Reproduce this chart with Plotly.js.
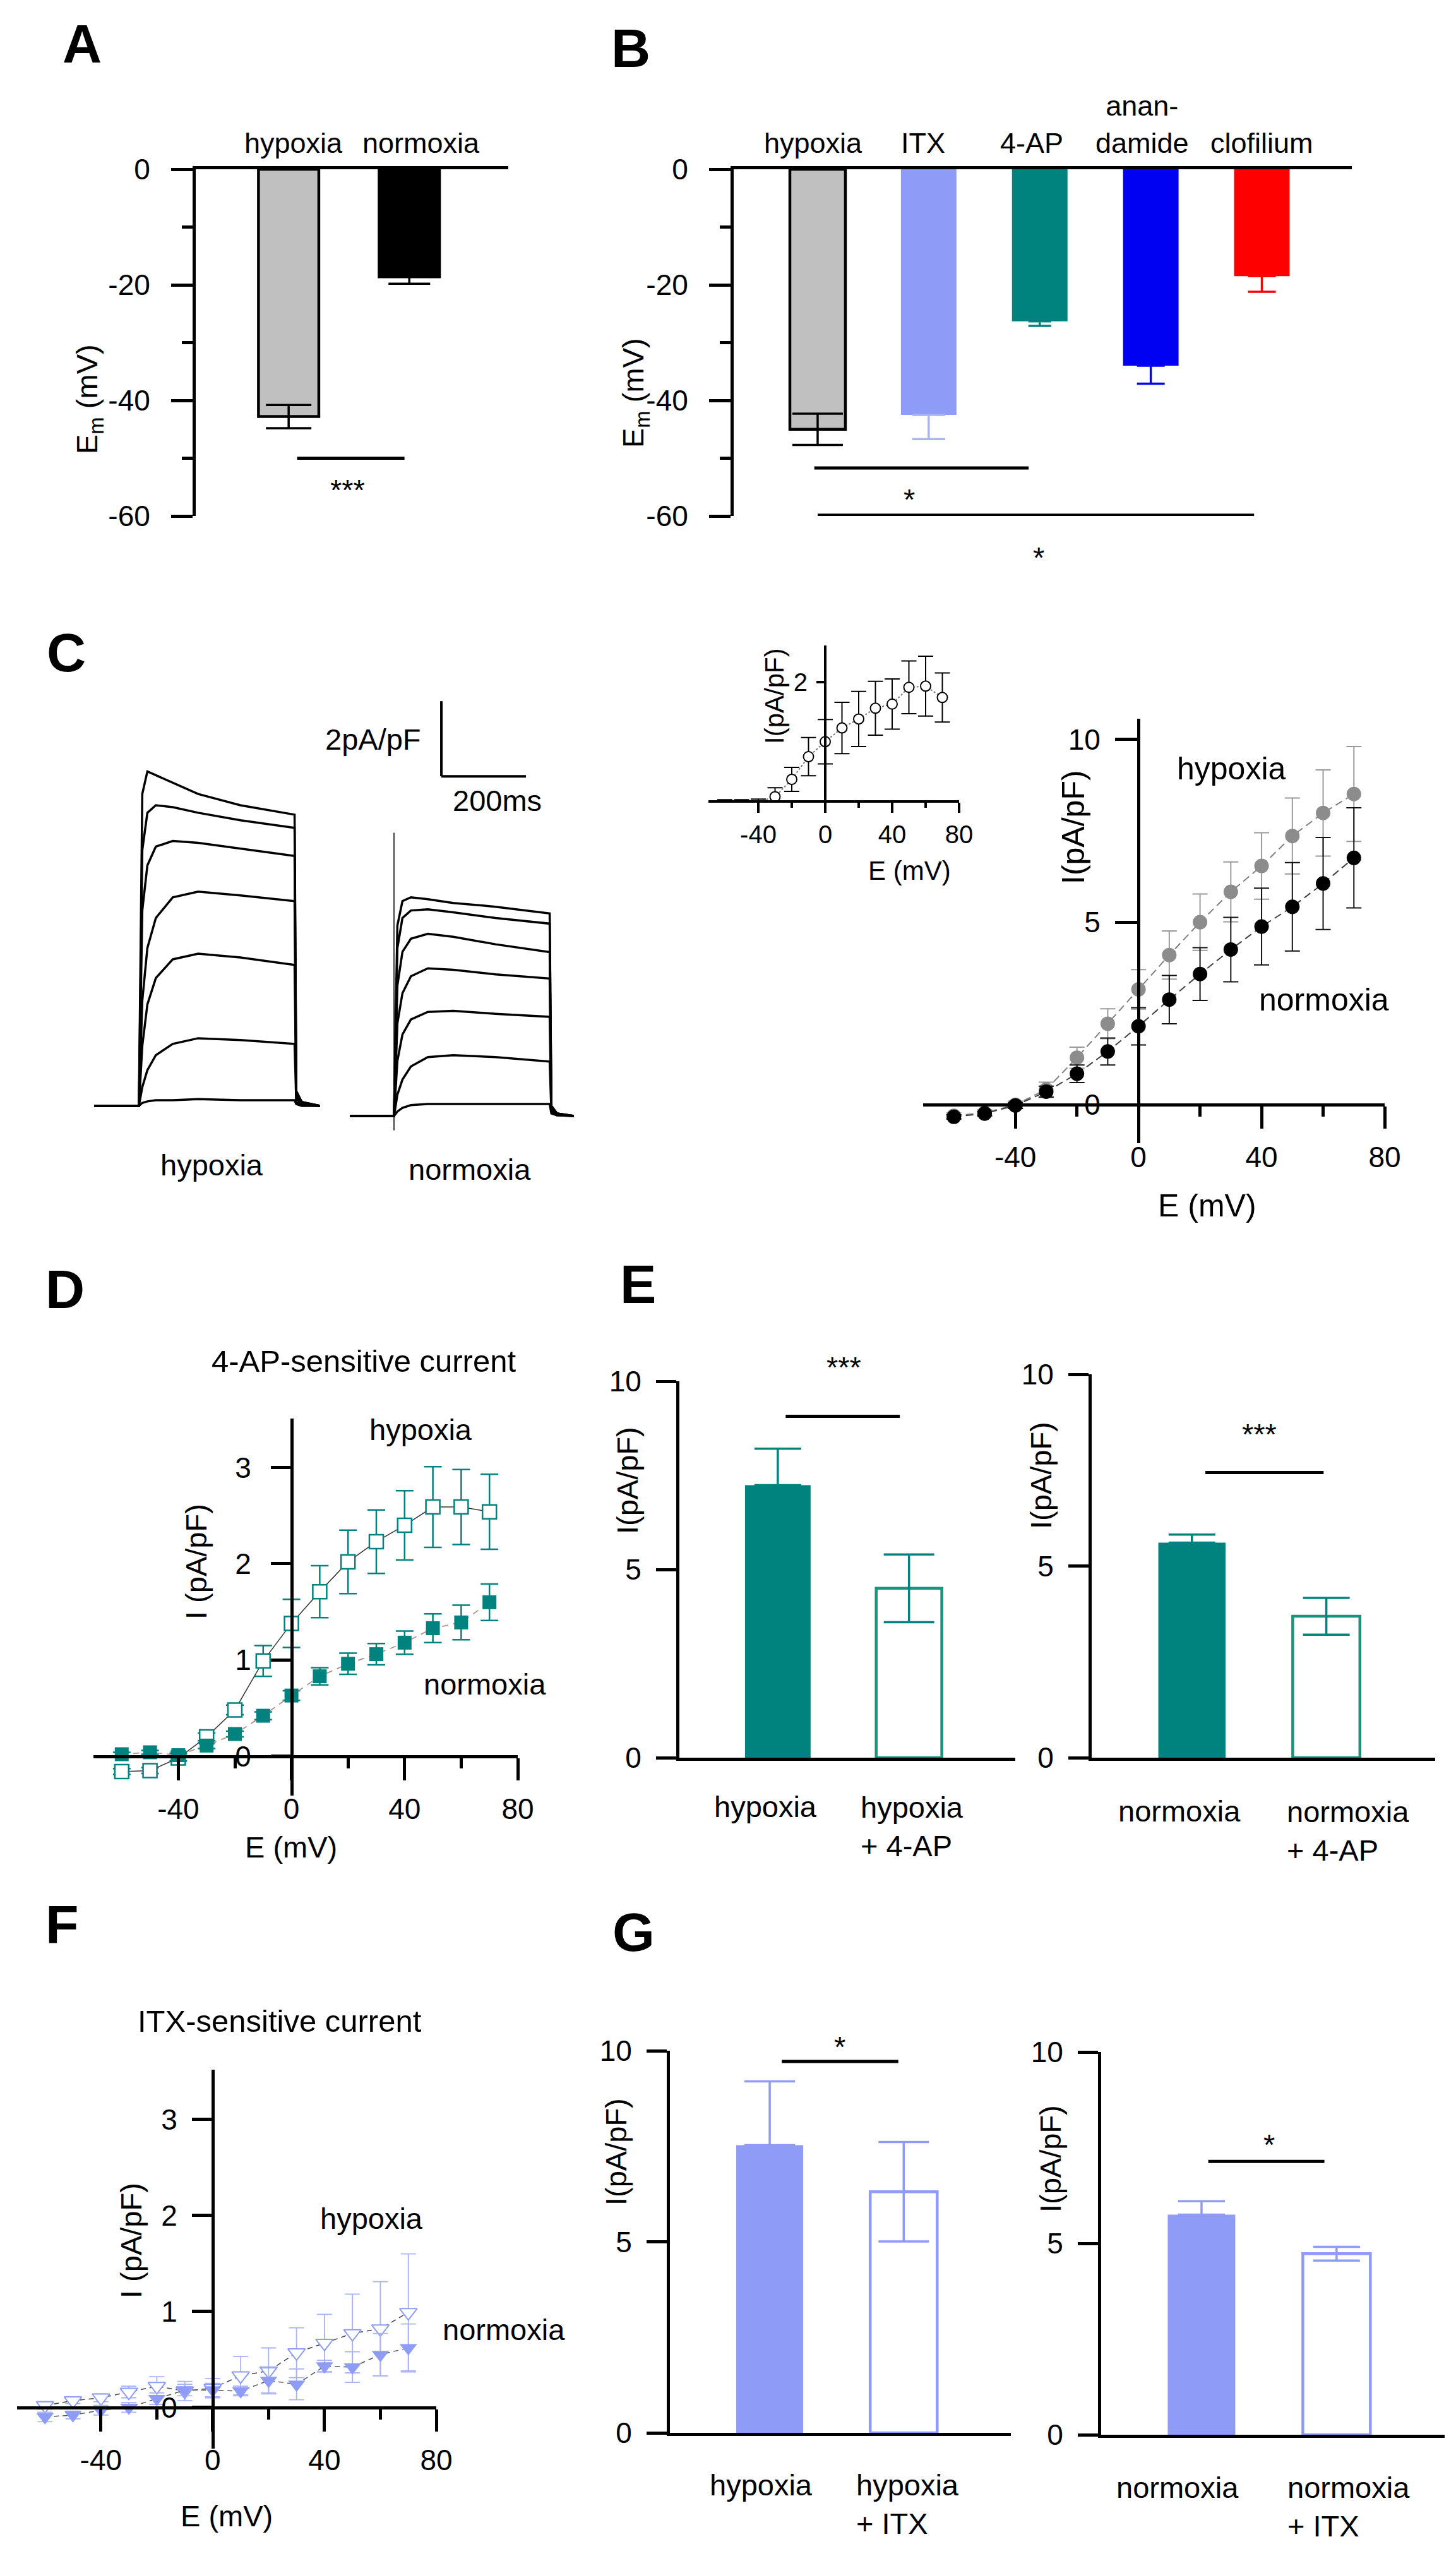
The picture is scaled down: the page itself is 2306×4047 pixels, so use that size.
<!DOCTYPE html>
<html><head><meta charset="utf-8">
<script src="https://cdn.plot.ly/plotly-3.0.1.min.js"></script>
<style>html,body{margin:0;padding:0;background:#fff}#fig{width:2306px;height:4047px}</style>
</head><body><div id="fig"></div>
<script>
// ---------------- DATA ----------------
// Panel A: resting membrane potential (mV)
const aCats = ['hypoxia', 'normoxia'];
const aEm = [-42.8, -18.6];
const aErr = [2.0, 1.2];
// Panel B
const bCats = ['hypoxia', 'ITX', '4-AP', 'anan-<br>damide', 'clofilium'];
const bEm = [-45.0, -42.5, -26.3, -34.0, -18.5];
const bErr = [2.7, 4.2, 0.8, 3.1, 2.7];
// Panel C: example current traces (time in ms, current in pA/pF)
const tHyp = [-105, -1, 0, 8, 20, 40, 80, 140, 240, 368, 372, 385, 428];
const hypSweeps = [
  [0, 0, 0, 8.3, 8.9, 8.8, 8.6, 8.3, 8.0, 7.75, 0.4, 0.1, 0],
  [0, 0, 0, 6.8, 7.8, 8.0, 7.95, 7.8, 7.6, 7.4, 0.35, 0.1, 0],
  [0, 0, 0, 5.2, 6.4, 6.9, 7.05, 7.0, 6.85, 6.65, 0.3, 0.1, 0],
  [0, 0, 0, 2.8, 4.2, 5.0, 5.55, 5.7, 5.6, 5.45, 0.25, 0.05, 0],
  [0, 0, 0, 1.6, 2.7, 3.4, 3.9, 4.05, 3.95, 3.75, 0.2, 0.05, 0],
  [0, 0, 0, 0.5, 0.95, 1.35, 1.65, 1.8, 1.75, 1.65, 0.1, 0.02, 0],
  [0, 0, 0, 0.08, 0.12, 0.15, 0.15, 0.18, 0.15, 0.15, 0.05, 0, 0]
];
const tNor = [499, 602, 603, 611, 623, 643, 683, 743, 843, 971, 975, 988, 1028];
const norSweeps = [
  [-0.27, -0.27, -0.27, 4.8, 5.45, 5.55, 5.5, 5.4, 5.3, 5.12, 0, -0.2, -0.27],
  [-0.27, -0.27, -0.27, 4.2, 5.0, 5.2, 5.23, 5.15, 5.0, 4.85, 0, -0.2, -0.27],
  [-0.27, -0.27, -0.27, 3.2, 4.1, 4.45, 4.58, 4.5, 4.3, 4.09, -0.05, -0.2, -0.27],
  [-0.27, -0.27, -0.27, 2.2, 3.0, 3.45, 3.66, 3.62, 3.5, 3.39, -0.1, -0.22, -0.27],
  [-0.27, -0.27, -0.27, 1.2, 1.9, 2.3, 2.5, 2.53, 2.45, 2.37, -0.1, -0.22, -0.27],
  [-0.27, -0.27, -0.27, 0.3, 0.7, 1.05, 1.3, 1.35, 1.3, 1.18, -0.15, -0.25, -0.27],
  [-0.27, -0.27, -0.27, -0.15, -0.05, 0.02, 0.05, 0.05, 0.05, 0.05, -0.2, -0.25, -0.27]
];
const tCap = [603, 603];
const iCap = [7.27, -0.65];
// I-V curves
const ivV = [-60, -50, -40, -30, -20, -10, 0, 10, 20, 30, 40, 50, 60, 70];
const cInsetI   = [-0.02, -0.02, -0.01, 0.08, 0.37, 0.75, 1.0, 1.23, 1.38, 1.56, 1.63, 1.91, 1.93, 1.74];
const cInsetErr = [0.05, 0.05, 0.05, 0.15, 0.2, 0.32, 0.37, 0.43, 0.46, 0.45, 0.42, 0.44, 0.5, 0.41];
const cHypI   = [-0.3, -0.22, 0.0, 0.42, 1.29, 2.22, 3.16, 4.10, 5.0, 5.83, 6.54, 7.36, 7.99, 8.51];
const cHypErr = [0.08, 0.08, 0.1, 0.2, 0.29, 0.41, 0.54, 0.66, 0.77, 0.82, 0.91, 1.04, 1.18, 1.3];
const cNorI   = [-0.33, -0.24, -0.02, 0.36, 0.85, 1.46, 2.15, 2.88, 3.58, 4.25, 4.88, 5.42, 6.06, 6.76];
const cNorErr = [0.06, 0.06, 0.08, 0.15, 0.24, 0.37, 0.51, 0.66, 0.72, 0.88, 1.05, 1.21, 1.26, 1.37];
// Panel D: 4-AP-sensitive current
const dHypI   = [-0.16, -0.15, -0.02, 0.2, 0.48, 0.99, 1.38, 1.71, 2.02, 2.23, 2.4, 2.59, 2.59, 2.54];
const dHypErr = [0.03, 0.03, 0.03, 0.04, 0.05, 0.16, 0.25, 0.27, 0.33, 0.33, 0.36, 0.42, 0.39, 0.39];
const dNorI   = [0.02, 0.04, 0.01, 0.11, 0.23, 0.42, 0.63, 0.83, 0.96, 1.06, 1.18, 1.33, 1.39, 1.6];
const dNorErr = [0.02, 0.02, 0.02, 0.03, 0.03, 0.04, 0.05, 0.09, 0.11, 0.11, 0.12, 0.15, 0.18, 0.19];
// Panel E
const eHypCats = ['hypoxia', 'hypoxia<br>+ 4-AP'];
const eHypI = [7.24, 4.5];
const eHypErr = [0.97, 0.9];
const eNorCats = ['normoxia', 'normoxia<br>+ 4-AP'];
const eNorI = [5.61, 3.69];
const eNorErr = [0.21, 0.48];
// Panel F: ITX-sensitive current
const fHypI   = [0.02, 0.07, 0.1, 0.16, 0.22, 0.17, 0.2, 0.33, 0.38, 0.57, 0.67, 0.77, 0.82, 0.99];
const fHypErr = [0.04, 0.03, 0.04, 0.06, 0.1, 0.1, 0.1, 0.2, 0.24, 0.26, 0.3, 0.41, 0.49, 0.61];
const fNorI   = [-0.1, -0.08, -0.03, 0.0, 0.09, 0.18, 0.18, 0.17, 0.28, 0.24, 0.43, 0.42, 0.55, 0.62];
const fNorErr = [0.05, 0.04, 0.05, 0.05, 0.06, 0.06, 0.07, 0.05, 0.13, 0.16, 0.06, 0.16, 0.22, 0.25];
// Panel G
const gHypCats = ['hypoxia', 'hypoxia<br>+ ITX'];
const gHypI = [7.53, 6.31];
const gHypErr = [1.67, 1.3];
const gNorCats = ['normoxia', 'normoxia<br>+ ITX'];
const gNorI = [5.75, 4.73];
const gNorErr = [0.35, 0.18];

// ---------------- STYLE / LAYOUT HELPERS ----------------
const W = 2306, H = 4047;
const FONT = '"Liberation Sans", Arial, Helvetica, sans-serif';
const TICK = 46, LAB = 47, CAT = 45;
const GRAYBAR = '#c0c0c0', TEAL = '#00837e', TEAL_OPEN = '#16957f';
const PERI = '#8f9cf7', PERI_ERR = '#a9b2f6', BLUE = '#0000f2', RED = '#ff0000';
const xd = (a, b) => [a / W, b / W];
const yd = (top, bot) => [1 - bot / H, 1 - top / H];
const px = p => p / W, py = p => 1 - p / H;
const k = n => (n === 1 ? '' : String(n));

const traces = [], ann = [], shapes = [];
const layout = {
  width: W, height: H, margin: {l: 0, r: 0, t: 0, b: 0},
  paper_bgcolor: '#fff', plot_bgcolor: 'rgba(0,0,0,0)', showlegend: false,
  barmode: 'overlay', font: {family: FONT, size: LAB, color: '#000'},
  annotations: ann, shapes: shapes
};
function text(t, x, y, opt) {
  ann.push(Object.assign({text: t, xref: 'paper', yref: 'paper', x: px(x), y: py(y),
    xanchor: 'center', yanchor: 'middle', showarrow: false,
    font: {family: FONT, size: LAB, color: '#000'}}, opt || {}));
}
function dataText(n, t, x, y, opt) {
  ann.push(Object.assign({text: t, xref: 'x' + k(n), yref: 'y' + k(n), x: x, y: y,
    xanchor: 'center', yanchor: 'middle', showarrow: false,
    font: {family: FONT, size: LAB, color: '#000'}}, opt || {}));
}
function sig(n, x0, x1, y) {
  shapes.push({type: 'line', xref: 'x' + k(n), yref: 'y' + k(n), x0: x0, x1: x1, y0: y, y1: y,
    line: {color: '#000', width: 5}});
}
function label(t, x, y) { text('<b>' + t + '</b>', x, y, {font: {family: FONT, size: 86, color: '#000'}}); }
function ytitle(t, x, y, size) { text(t, x, y, {textangle: -90, font: {family: FONT, size: size || LAB, color: '#000'}}); }

function barAxes(n, xDom, xRange, yDom, yRange, yTicks, minor, top) {
  layout['xaxis' + k(n)] = {domain: xd(xDom[0], xDom[1]), range: xRange, anchor: 'y' + k(n),
    side: top ? 'top' : 'bottom', showline: true, linewidth: 5, linecolor: '#000',
    ticks: '', showticklabels: false, showgrid: false, zeroline: false, fixedrange: true};
  const ya = {domain: yd(yDom[0], yDom[1]), range: yRange, anchor: 'x' + k(n),
    showline: true, linewidth: 5, linecolor: '#000', ticks: 'outside', ticklen: top ? 34 : 32, tickwidth: 5,
    tickcolor: '#000', tickmode: 'array', tickvals: yTicks, ticktext: yTicks.map(v => String(v)),
    tickfont: {family: FONT, size: TICK, color: '#000'}, ticklabelstandoff: top ? 24 : 14,
    showgrid: false, zeroline: false, fixedrange: true};
  if (minor) ya.minor = {tickmode: 'array', tickvals: minor, ticks: 'outside', ticklen: 17,
    tickwidth: 5, tickcolor: '#000', showgrid: false};
  layout['yaxis' + k(n)] = ya;
}
function ivAxes(n, o) {
  layout['xaxis' + k(n)] = {domain: xd(o.x0, o.x1), range: o.xr, anchor: 'free', position: py(o.xpos),
    showline: true, linewidth: o.lw, linecolor: '#000', ticks: 'outside', ticklen: o.tl, tickwidth: o.lw,
    tickcolor: '#000', tickmode: 'array', tickvals: [-40, 0, 40, 80], ticktext: ['-40', '0', '40', '80'],
    tickfont: {family: FONT, size: o.fs, color: '#000'}, ticklabelstandoff: o.xso,
    minor: {tickmode: 'array', tickvals: [-20, 20, 60], ticks: 'outside', ticklen: o.mtl, tickwidth: o.lw,
      tickcolor: '#000', showgrid: false},
    showgrid: false, zeroline: false, fixedrange: true};
  layout['yaxis' + k(n)] = {domain: yd(o.y0, o.y1), range: o.yr, anchor: 'free', position: px(o.ypos),
    showline: true, linewidth: o.lw, linecolor: '#000', ticks: 'outside', ticklen: o.ytl, tickwidth: o.lw,
    tickcolor: '#000', tickmode: 'array', tickvals: o.yt, ticktext: o.yt.map(v => String(v)),
    tickfont: {family: FONT, size: o.fs, color: '#000'}, ticklabelstandoff: o.yso,
    showgrid: false, zeroline: false, fixedrange: true};
}
function bar(n, x, y, fill, lineColor, lineW, errUp, errDown, errColor, capW) {
  traces.push({type: 'bar', x: [x], y: [y], width: [0.5], xaxis: 'x' + k(n), yaxis: 'y' + k(n),
    marker: {color: fill, line: {color: lineColor, width: lineW}},
    error_y: {type: 'data', symmetric: false, array: [errUp], arrayminus: [errDown], visible: true,
      color: errColor, thickness: 3.5, width: capW}, hoverinfo: 'skip'});
}
function iv(n, y, err, marker, line, errColor, errW, capW) {
  traces.push({type: 'scatter', mode: 'lines+markers', x: ivV, y: y, xaxis: 'x' + k(n), yaxis: 'y' + k(n),
    cliponaxis: false, marker: marker, line: line,
    error_y: {type: 'data', array: err, visible: true, color: errColor, thickness: errW, width: capW},
    hoverinfo: 'skip'});
}
const catFont = {family: FONT, size: CAT, color: '#000'};

// ---------------- PANEL A ----------------
barAxes(1, [310, 805], [0.23, 2.82], [268, 817], [-60, 0], [0, -20, -40, -60], [-10, -30, -50], true);
bar(1, 1, aEm[0], GRAYBAR, '#000', 4.5, aErr[0], aErr[0], '#000', 36);
bar(1, 2, aEm[1], '#000', '#000', 4.5, 0, aErr[1], '#000', 33);
const aLabelX = [1.04, 2.1];
aCats.forEach((c, i) => dataText(1, c, aLabelX[i], 0, {yanchor: 'bottom', yshift: 14, font: catFont}));
sig(1, 1.07, 1.96, -50);
text('***', 550, 776);
label('A', 130, 69);
ytitle('E<sub>m</sub> (mV)', 141, 632);

// ---------------- PANEL B ----------------
barAxes(2, [1162, 2141], [0.244, 5.81], [268, 817], [-60, 0], [0, -20, -40, -60], [-10, -30, -50], true);
const bFill = [GRAYBAR, PERI, TEAL, BLUE, RED];
const bLine = ['#000', PERI, TEAL, BLUE, RED];
const bLW = [4.5, 0, 0, 0, 0];
const bErrC = ['#000', PERI_ERR, TEAL, BLUE, RED];
const bCap = [40, 26, 18, 22, 22];
bEm.forEach((v, i) => bar(2, i + 1, v, bFill[i], bLine[i], bLW[i], i === 0 ? bErr[i] : 0, bErr[i], bErrC[i], bCap[i]));
const bLabelX = [0.96, 1.95, 2.93, 3.92, 5.0];
bCats.forEach((c, i) => dataText(2, c, bLabelX[i], 0, {yanchor: 'bottom', yshift: 14, font: catFont}));
sig(2, 0.97, 2.90, -51.7);
sig(2, 1.0, 4.93, -59.85);
text('*', 1440, 790);
text('*', 1645, 883);
label('B', 999, 76);
ytitle('E<sub>m</sub> (mV)', 1006, 622);

// ---------------- PANEL C: traces ----------------
layout.xaxis3 = {domain: xd(140, 930), range: [-119.4, 1059.7], visible: false, fixedrange: true};
layout.yaxis3 = {domain: yd(1080, 1830), range: [-1.3277, 11.277], visible: false, fixedrange: true};
hypSweeps.forEach(s => traces.push({type: 'scatter', mode: 'lines', x: tHyp, y: s, xaxis: 'x3', yaxis: 'y3',
  line: {color: '#000', width: 3.5}, hoverinfo: 'skip'}));
norSweeps.forEach(s => traces.push({type: 'scatter', mode: 'lines', x: tNor, y: s, xaxis: 'x3', yaxis: 'y3',
  line: {color: '#000', width: 3.5}, hoverinfo: 'skip'}));
traces.push({type: 'scatter', mode: 'lines', x: tCap, y: iCap, xaxis: 'x3', yaxis: 'y3',
  line: {color: '#000', width: 1.5}, hoverinfo: 'skip'});
shapes.push({type: 'line', xref: 'x3', yref: 'y3', x0: 715, x1: 715, y0: 8.77, y1: 10.77, line: {color: '#000', width: 4}});
shapes.push({type: 'line', xref: 'x3', yref: 'y3', x0: 715, x1: 915, y0: 8.77, y1: 8.77, line: {color: '#000', width: 4}});
text('2pA/pF', 591, 1171);
text('200ms', 787, 1267);
text('hypoxia', 335, 1844);
text('normoxia', 744, 1851);
label('C', 105, 1033);

// ---------------- PANEL C: inset I-V ----------------
ivAxes(4, {x0: 1121.5, x1: 1519, xr: [-70, 80], xpos: 1269, y0: 1022, y1: 1269, yr: [0, 2.61], ypos: 1307,
  yt: [2], lw: 4, tl: 16, mtl: 8, ytl: 12, fs: 40, xso: 0, yso: 6});
iv(4, cInsetI, cInsetErr, {symbol: 'circle', size: 16, color: '#fff', line: {color: '#000', width: 2}},
  {color: '#777', width: 2, dash: 'dot'}, '#000', 2, 12);
ytitle('I(pA/pF)', 1227, 1102, 42);
text('E (mV)', 1440, 1378, {font: {family: FONT, size: 42, color: '#000'}});

// ---------------- PANEL C: main I-V ----------------
ivAxes(5, {x0: 1462, x1: 2193, xr: [-70, 80], xpos: 1749, y0: 1138, y1: 1810, yr: [-1.05, 10.57], ypos: 1803,
  yt: [0, 5, 10], lw: 5, tl: 35, mtl: 16, ytl: 35, fs: TICK, xso: 6, yso: 14});
iv(5, cHypI, cHypErr, {symbol: 'circle', size: 23, color: '#8c8c8c', line: {width: 0}},
  {color: '#808080', width: 2, dash: '12px,7px'}, '#9a9a9a', 2, 12);
iv(5, cNorI, cNorErr, {symbol: 'circle', size: 23, color: '#000', line: {width: 0}},
  {color: '#404040', width: 2, dash: '12px,7px'}, '#111', 2, 12);
text('hypoxia', 1950, 1217, {font: {family: FONT, size: 50, color: '#000'}});
text('normoxia', 2097, 1583, {font: {family: FONT, size: 50, color: '#000'}});
ytitle('I(pA/pF)', 1700, 1310, 50);
text('E (mV)', 1912, 1909, {font: {family: FONT, size: 50, color: '#000'}});

// ---------------- PANEL D ----------------
ivAxes(6, {x0: 148, x1: 820, xr: [-70, 80], xpos: 2781, y0: 2246, y1: 2843, yr: [-0.41, 3.51], ypos: 462,
  yt: [0, 1, 2, 3], lw: 5, tl: 35, mtl: 16, ytl: 31, fs: TICK, xso: 6, yso: 22});
iv(6, dHypI, dHypErr, {symbol: 'square', size: 22, color: '#fff', line: {color: TEAL, width: 2.5}},
  {color: '#333', width: 1.5}, TEAL, 2.5, 14);
iv(6, dNorI, dNorErr, {symbol: 'square', size: 22, color: TEAL, line: {width: 0}},
  {color: '#b58f8f', width: 1.8, dash: '10px,8px'}, TEAL, 2.5, 14);
text('4-AP-sensitive current', 576, 2155, {font: {family: FONT, size: 49, color: '#000'}});
text('hypoxia', 666, 2263);
text('normoxia', 768, 2666);
ytitle('I (pA/pF)', 310, 2473);
text('E (mV)', 461, 2924);
label('D', 103, 2041);

// ---------------- PANEL E ----------------
barAxes(7, [1076, 1608], [0.25, 2.81], [2187, 2783], [0, 10], [0, 5, 10], null, false);
bar(7, 1, eHypI[0], TEAL, TEAL, 0, eHypErr[0], 0, TEAL, 37);
bar(7, 2, eHypI[1], '#fff', TEAL_OPEN, 4.5, eHypErr[1], eHypErr[1], TEAL, 40);
sig(7, 1.06, 1.93, 9.07);
text('***', 1336, 2164);
barAxes(8, [1729, 2273], [0.254, 2.81], [2176, 2783], [0, 10], [0, 5, 10], null, false);
bar(8, 1, eNorI[0], TEAL, TEAL, 0, eNorErr[0], 0, TEAL, 37);
bar(8, 2, eNorI[1], '#fff', TEAL_OPEN, 4.5, eNorErr[1], eNorErr[1], TEAL, 37);
sig(8, 1.1, 1.98, 7.44);
text('***', 1995, 2270);
text(eHypCats[0], 1212, 2860);
text(eHypCats[1], 1444, 2892, {align: 'left'});
text(eNorCats[0], 1868, 2867);
text(eNorCats[1], 2135, 2899, {align: 'left'});
ytitle('I(pA/pF)', 993, 2344);
ytitle('I(pA/pF)', 1648, 2336);
label('E', 1010, 2033);

// ---------------- PANEL F ----------------
ivAxes(9, {x0: 27, x1: 691, xr: [-70, 80], xpos: 3812, y0: 3277, y1: 3877, yr: [-0.43, 3.52], ypos: 337,
  yt: [0, 1, 2, 3], lw: 5, tl: 35, mtl: 16, ytl: 31, fs: TICK, xso: 6, yso: 14});
iv(9, fHypI, fHypErr, {symbol: 'triangle-down', size: 24, color: '#fff', line: {color: PERI, width: 2}},
  {color: '#444', width: 1.5, dash: '8px,6px'}, PERI_ERR, 1.8, 12);
iv(9, fNorI, fNorErr, {symbol: 'triangle-down', size: 24, color: PERI, line: {width: 0}},
  {color: '#555', width: 1.5, dash: '8px,6px'}, PERI_ERR, 1.8, 12);
text('ITX-sensitive current', 443, 3200, {font: {family: FONT, size: 49, color: '#000'}});
text('hypoxia', 588, 3512);
text('normoxia', 798, 3688);
ytitle('I (pA/pF)', 207, 3548);
text('E (mV)', 359, 3983);
label('F', 98, 3047);

// ---------------- PANEL G ----------------
barAxes(10, [1061, 1601], [0.255, 2.80], [3247, 3852], [0, 10], [0, 5, 10], null, false);
bar(10, 1, gHypI[0], PERI, PERI, 0, gHypErr[0], 0, PERI, 40);
bar(10, 2, gHypI[1], '#fff', PERI, 4.5, gHypErr[1], gHypErr[1], PERI, 40);
sig(10, 1.09, 1.96, 9.72);
text('*', 1330, 3240);
barAxes(11, [1744, 2288], [0.257, 2.80], [3249, 3855], [0, 10], [0, 5, 10], null, false);
bar(11, 1, gNorI[0], PERI, PERI, 0, gNorErr[0], 0, PERI, 37);
bar(11, 2, gNorI[1], '#fff', PERI, 4.5, gNorErr[1], gNorErr[1], PERI, 37);
sig(11, 1.05, 1.91, 7.14);
text('*', 2010, 3395);
text(gHypCats[0], 1205, 3934);
text(gHypCats[1], 1437, 3965, {align: 'left'});
text(gNorCats[0], 1865, 3938);
text(gNorCats[1], 2136, 3969, {align: 'left'});
ytitle('I(pA/pF)', 975, 3407);
ytitle('I(pA/pF)', 1663, 3418);
label('G', 1003, 3059);

Plotly.newPlot('fig', traces, layout, {staticPlot: true, displayModeBar: false});
</script></body></html>
